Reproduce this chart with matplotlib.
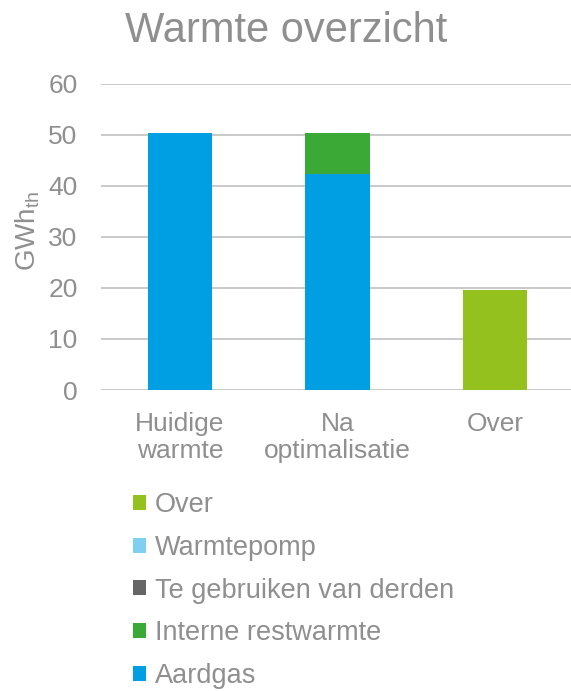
import numpy as np
import matplotlib
matplotlib.use("Agg")
import matplotlib.pyplot as plt

# data
categories = ["Huidige\nwarmte", "Na\noptimalisatie", "Over"]
series_names = ["Aardgas", "Interne restwarmte", "Te gebruiken van derden",
                "Warmtepomp", "Over"]
aardgas = [50.4, 42.3, 0.0]
interne_restwarmte = [0.0, 8.1, 0.0]
te_gebruiken_van_derden = [0.0, 0.0, 0.0]
warmtepomp = [0.0, 0.0, 0.0]
over = [0.0, 0.0, 19.6]
y_ticks = [0, 10, 20, 30, 40, 50, 60]

colors = ["#009FE3", "#3BA935", "#666666", "#7FCFF0", "#95C11F"]
TXT = "#8f8f8f"

plt.rcParams.update({
    "font.family": "Liberation Sans",
    "mathtext.default": "regular",
    "font.size": 19,
})

fig = plt.figure(figsize=(5.71, 6.91), dpi=100)
ax = fig.add_axes([101.25 / 571, 1 - 390 / 691, 472.5 / 571, 306.5 / 691])

x = np.arange(len(categories))
w = 0.41
bottom = np.zeros(len(categories))
handles = []
for name, vals, c in zip(series_names,
                         [aardgas, interne_restwarmte, te_gebruiken_van_derden,
                          warmtepomp, over], colors):
    h = ax.bar(x, vals, width=w, bottom=bottom, color=c, label=name,
               linewidth=0, zorder=3)
    handles.append(h)
    bottom += np.array(vals)

ax.set_xlim(-0.5, 2.5)
ax.set_ylim(0, 60)
ax.set_yticks(y_ticks)
ax.set_xticks(x)
ax.set_xticklabels(categories, color=TXT, fontsize=19, linespacing=1.14)
ax.tick_params(axis="y", length=0, pad=17, labelcolor=TXT, labelsize=19)
ax.tick_params(axis="x", length=0, pad=16)
for s in ax.spines.values():
    s.set_visible(False)
ax.grid(axis="y", color="#c0c0c0", linewidth=1.2, zorder=0)

ax.set_ylabel("GWh$_{th}$", color=TXT, fontsize=20)
ax.yaxis.set_label_coords(-0.125, 0.52)

fig.text(286 / 571, 1 - 42 / 691, "Warmte overzicht", color=TXT,
         fontsize=30, ha="center", va="baseline")

fig.legend(handles[::-1], series_names[::-1], loc="upper left",
           bbox_to_anchor=(133 / 571, 1 - 492 / 691), frameon=False,
           borderpad=0, borderaxespad=0, fontsize=19.5, labelcolor=TXT,
           handlelength=0.48, handleheight=0.48, handletextpad=0.33,
           labelspacing=0.62)

fig.savefig("out.png", dpi=100)
